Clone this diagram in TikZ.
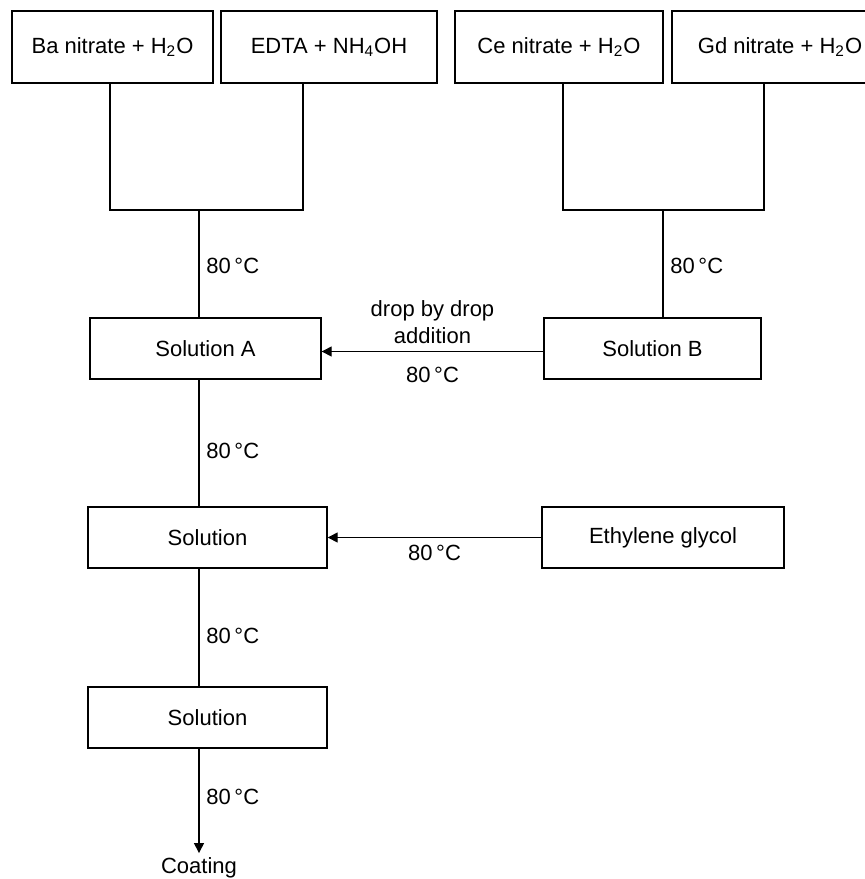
\documentclass[tikz,border=0pt]{standalone}
\usepackage{fontspec}
\setmainfont{Liberation Sans}
\usetikzlibrary{arrows.meta}
\tikzstyle{box}=[draw,rectangle,line width=0.7pt,inner sep=0,minimum height=30.5pt]
\tikzstyle{src}=[box,minimum height=36pt]

\begin{document}
\begin{tikzpicture}[x=0.5pt,y=-0.5pt,>={Triangle[length=5pt,width=5pt]},line width=0.7pt,
    every node/.style={font=\fontsize{11}{13.5}\selectfont}]
    \useasboundingbox (0,0) rectangle (865,879);

                        % starting materials
                        \node[src,minimum width=100.5pt] (ba) at (112.5,47) {Ba nitrate + H\textsubscript{2}O};
                        \node[src,minimum width=108pt] (edta) at (329,47) {EDTA + NH\textsubscript{4}OH};
                        \node[src,minimum width=104pt] (ce) at (559,47) {Ce nitrate + H\textsubscript{2}O};
                        \node[src,minimum width=108pt] (gd) at (780,47) {Gd nitrate + H\textsubscript{2}O};

                        \coordinate (jl) at (199,210);
                        \coordinate (jr) at (663,210);

                        \node[box,minimum width=115.5pt] (solA) at (205.5,348.5) {Solution A};
                        \node[box,minimum width=108.5pt] (solB) at (652.5,348.5) {Solution B};
                        \node[box,minimum width=119.5pt] (sol) at (207.5,537.5) {Solution};
                        \node[box,minimum width=121pt] (eth) at (663,537.5) {Ethylene glycol};
                        \node[box,minimum width=119.5pt] (sol2) at (207.5,717.5) {Solution};
                        \node[inner sep=2pt] (coat) at (199,868) {Coating};

                        \draw
                        ([xshift=-1.25pt]ba.south) |- (jl)
                        (jl) -| ([xshift=-13pt]edta.south)
                        (jl) -- node[right,pos=0.52] {80\,°C} (jl |- solA.north)
                        ([xshift=2pt]ce.south) |- (jr)
                        (jr) -| ([xshift=-8pt]gd.south)
                        (jr) -- node[right,pos=0.52] {80\,°C} (jr |- solB.north)
                        (jl |- solA.south) -- node[right,pos=0.56] {80\,°C} (jl |- sol.north)
                        (jl |- sol.south) -- node[right,pos=0.57] {80\,°C} (jl |- sol2.north)
                        ;

                        \draw[->] ([yshift=-1.5pt]solB.west) -- node[above,align=center] {drop by drop\\addition}
                                  node[below=4pt] {80\,°C} ([yshift=-1.5pt]solA.east);
                        \draw[->] (eth) -- node[below] {80\,°C} (sol);
                        \draw[->] (jl |- sol2.south) -- node[right,pos=0.46] {80\,°C} (coat);

    \end{tikzpicture}
\end{document}
